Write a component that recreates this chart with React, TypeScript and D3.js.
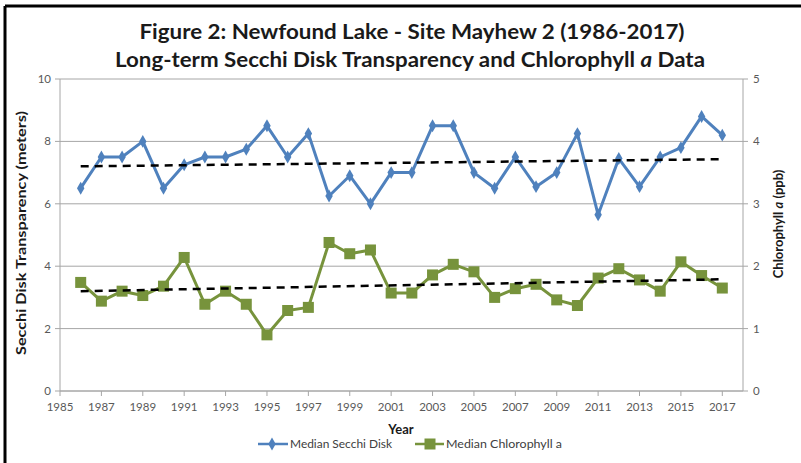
import React from "react";
import * as d3 from "d3";

const years = [1986,1987,1988,1989,1990,1991,1992,1993,1994,1995,1996,1997,1998,1999,2000,2001,2002,2003,2004,2005,2006,2007,2008,2009,2010,2011,2012,2013,2014,2015,2016,2017];
const secchi = [6.5,7.5,7.5,8.0,6.5,7.25,7.5,7.5,7.75,8.5,7.5,8.25,6.25,6.9,6.0,7.0,7.0,8.5,8.5,7.0,6.5,7.5,6.55,7.0,8.25,5.65,7.45,6.55,7.5,7.8,8.8,8.2];
const chl = [1.74,1.44,1.6,1.53,1.68,2.14,1.39,1.6,1.39,0.9,1.29,1.34,2.38,2.2,2.26,1.57,1.57,1.86,2.03,1.91,1.5,1.64,1.71,1.46,1.37,1.81,1.96,1.78,1.6,2.07,1.85,1.65];
const secchiTrend = [7.2, 7.43];
const chlTrend = [1.6, 1.79];
const xTicks = [1985,1987,1989,1991,1993,1995,1997,1999,2001,2003,2005,2007,2009,2011,2013,2015,2017];
const leftTicks = [0,2,4,6,8,10];
const rightTicks = [0,1,2,3,4,5];

const W = 801, H = 463;
const L = 60, R = 743, T = 79, B = 391;
const BLUE = "#4f81bd";
const GREEN = "#77933c";
const FONT = "Lato, 'Open Sans', sans-serif";

export default function App() {
  const x = d3.scaleLinear().domain([1985, 2018]).range([L, R]);
  const yL = d3.scaleLinear().domain([0, 10]).range([B, T]);
  const yR = d3.scaleLinear().domain([0, 5]).range([B, T]);
  const lineS = d3.line<number>().x((_, i) => x(years[i])).y(d => yL(d));
  const lineC = d3.line<number>().x((_, i) => x(years[i])).y(d => yR(d));
  const y0 = years[0], y1 = years[years.length - 1];
  const diamond = d3.symbol().type(d3.symbolDiamond).size(48)()!;
  const LY = 444;
  return (
    <div style={{ position: "absolute", left: 0, top: 0 }}>
      <svg width={W} height={H} style={{ display: "block", background: "#fff" }} fontFamily={FONT}>
        <rect x={0} y={0} width={W} height={H} fill="#fff" />
        {/* frame */}
        <line x1={5} y1={6} x2={W} y2={6} stroke="#000" strokeWidth={3} />
        <line x1={5} y1={6} x2={5} y2={H} stroke="#000" strokeWidth={3} />
        {/* title */}
        <text x={412} y={39} textAnchor="middle" fontSize={20} fontWeight="bold" fill="#1a1a1a" textLength={545} lengthAdjust="spacingAndGlyphs">
          Figure 2: Newfound Lake - Site Mayhew 2 (1986-2017)
        </text>
        <text x={410} y={67} textAnchor="middle" fontSize={20} fontWeight="bold" fill="#1a1a1a" textLength={590} lengthAdjust="spacingAndGlyphs">
          Long-term Secchi Disk Transparency and Chlorophyll <tspan fontStyle="italic">a</tspan> Data
        </text>
        {/* gridlines */}
        {leftTicks.map(t => (
          <line key={"g" + t} x1={L} x2={R} y1={yL(t)} y2={yL(t)} stroke="#a6a6a6" strokeWidth={1} />
        ))}
        {/* axes */}
        <line x1={L} x2={L} y1={T} y2={B} stroke="#a6a6a6" />
        <line x1={R} x2={R} y1={T} y2={B} stroke="#a6a6a6" />
        <line x1={L} x2={R} y1={B} y2={B} stroke="#a6a6a6" />
        {leftTicks.map(t => (
          <g key={"l" + t}>
            <line x1={L - 5} x2={L} y1={yL(t)} y2={yL(t)} stroke="#a6a6a6" />
            <text x={L - 9} y={yL(t) + 4} textAnchor="end" fontSize={11.5} fill="#595959">{t}</text>
          </g>
        ))}
        {rightTicks.map(t => (
          <g key={"r" + t}>
            <line x1={R} x2={R + 5} y1={yR(t)} y2={yR(t)} stroke="#a6a6a6" />
            <text x={R + 10} y={yR(t) + 4} textAnchor="start" fontSize={11.5} fill="#595959">{t}</text>
          </g>
        ))}
        {xTicks.map(t => (
          <g key={"x" + t}>
            <line x1={x(t)} x2={x(t)} y1={B} y2={B + 5} stroke="#a6a6a6" />
            <text x={x(t)} y={B + 20} textAnchor="middle" fontSize={11.5} fill="#595959">{t}</text>
          </g>
        ))}
        {/* axis titles */}
        <text transform={`translate(26,233) rotate(-90)`} textAnchor="middle" fontSize={13} fontWeight="bold" fill="#1a1a1a" textLength={244} lengthAdjust="spacingAndGlyphs">
          Secchi Disk Transparency (meters)
        </text>
        <text transform={`translate(783,224) rotate(-90)`} textAnchor="middle" fontSize={13} fontWeight="bold" fill="#1a1a1a">
          Chlorophyll <tspan fontStyle="italic">a</tspan> (ppb)
        </text>
        <text x={401} y={434} textAnchor="middle" fontSize={13} fontWeight="bold" fill="#1a1a1a">Year</text>
        {/* series */}
        <path d={lineS(secchi)!} fill="none" stroke={BLUE} strokeWidth={3} strokeLinejoin="round" />
        {secchi.map((v, i) => (
          <path key={"s" + i} d={diamond} transform={`translate(${x(years[i])},${yL(v)})`} fill={BLUE} />
        ))}
        <path d={lineC(chl)!} fill="none" stroke={GREEN} strokeWidth={3} strokeLinejoin="round" />
        {chl.map((v, i) => (
          <rect key={"c" + i} x={x(years[i]) - 5.5} y={yR(v) - 5.5} width={11} height={11} fill={GREEN} />
        ))}
        {/* trend lines */}
        <line x1={x(y0)} x2={x(y1)} y1={yL(secchiTrend[0])} y2={yL(secchiTrend[1])} stroke="#000" strokeWidth={2.5} strokeDasharray="8,6" />
        <line x1={x(y0)} x2={x(y1)} y1={yR(chlTrend[0])} y2={yR(chlTrend[1])} stroke="#000" strokeWidth={2.5} strokeDasharray="8,6" />
        {/* legend */}
        <line x1={258} x2={288} y1={LY} y2={LY} stroke={BLUE} strokeWidth={2.5} />
        <path d={diamond} transform={`translate(272,${LY})`} fill={BLUE} />
        <text x={290} y={LY + 4} fontSize={12} fill="#404040" textLength={102} lengthAdjust="spacingAndGlyphs">Median Secchi Disk</text>
        <line x1={415} x2={444} y1={LY} y2={LY} stroke={GREEN} strokeWidth={2.5} />
        <rect x={424.5} y={LY - 5.5} width={11} height={11} fill={GREEN} />
        <text x={446} y={LY + 4} fontSize={12} fill="#404040" textLength={116} lengthAdjust="spacingAndGlyphs">Median Chlorophyll a</text>
      </svg>
    </div>
  );
}
